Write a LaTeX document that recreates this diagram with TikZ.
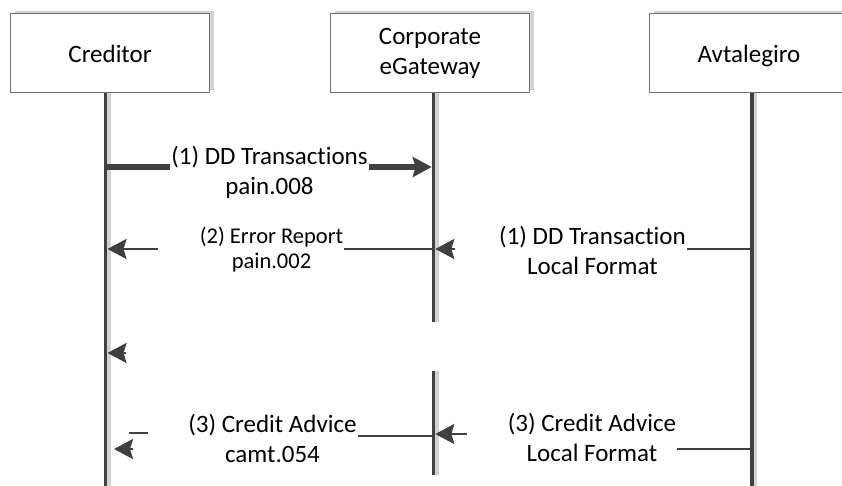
\documentclass[tikz,border=0pt]{standalone}
\usepackage{fontspec}
\setmainfont{Carlito}[Ligatures=NoCommon]
\usetikzlibrary{positioning,arrows.meta,shadows}
\definecolor{linegray}{HTML}{404040}
\definecolor{shadowgray}{HTML}{D2D2D2}
\definecolor{boxgray}{HTML}{707070}

\begin{document}
\begin{tikzpicture}[
        x=1pt, y=-1pt,
        node distance=120pt,
        head/.style={rectangle, draw=boxgray, line width=1pt, fill=white, minimum width=199pt, minimum height=79pt, align=center, font=\fontsize{25}{30}\selectfont, drop shadow={shadow xshift=4pt, shadow yshift=3pt, fill=shadowgray, opacity=1}},
        lifeline/.style={draw=linegray, line width=3.5pt},
        lifeshadow/.style={draw=shadowgray, line width=3.5pt},
        msg/.style={draw=linegray, line width=2.8pt},
        msg-thick/.style={draw=linegray, line width=6.5pt},
        tip/.style={-{Stealth[length=19pt, width=20pt, inset=3pt]}},
        msglabel/.style={align=center, inner sep=1pt, font=\fontsize{25}{30}\selectfont},
        msglabel-small/.style={align=center, inner sep=1pt, font=\fontsize{22.5}{25}\selectfont}
    ]

    \useasboundingbox (0,0) rectangle (842,486);

    % Define nodes - lifeline heads
    \node[head, text depth=0pt] (cred) at (110,53.5) {Creditor};
    \node[head] (corp) [right=of cred] {Corporate\\eGateway};
    \node[head, text depth=0pt] (aval) [right=119pt of corp] {Avtalegiro};

    % Lifeline ends
    \coordinate (crbot) at (105.5,490);
    \coordinate (gwcut) at (433.5,322);
    \coordinate (gwres) at (433.5,371);
    \coordinate (gwbot) at (433.5,475);
    \coordinate (avbot) at (752,490);

    % Lifelines
    \draw[lifeshadow] ([xshift=3.5pt]cred.south -| crbot) -- ([xshift=3.5pt]crbot);
    \draw[lifeshadow] ([xshift=3.5pt]corp.south -| gwcut) -- ([xshift=3.5pt]gwcut);
    \draw[lifeshadow] ([xshift=3.5pt]gwres) -- ([xshift=3.5pt]gwbot);
    \draw[lifeshadow] ([xshift=3.5pt]aval.south -| avbot) -- ([xshift=3.5pt]avbot);
    \draw[lifeline] (cred.south -| crbot) -- (crbot);
    \draw[lifeline] (corp.south -| gwcut) -- (gwcut);
    \draw[lifeline] (gwres) -- (gwbot);
    \draw[lifeline] (aval.south -| avbot) -- (avbot);

    % Message labels
    \node[msglabel] (dd) at (269.5,172) {(1) DD Transactions\\pain.008};
    \node[msglabel-small] (err) at (271.5,250) {(2) Error Report\\pain.002};
    \node[msglabel] (ddloc) at (592.5,250) {(1) DD Transaction\\Local Format};
    \node[msglabel] (adv) at (272.5,438) {(3) Credit Advice\\camt.054};
    \node[msglabel] (advloc) at (592,437) {(3) Credit Advice\\Local Format};

    % Message end points
    \coordinate (dd-a) at (105.5,167);
    \coordinate (dd-b) at (431.7,167);
    \coordinate (err-a) at (107.5,249);
    \coordinate (err-s) at (158,249);
    \coordinate (err-b) at (433.5,249);
    \coordinate (ddloc-a) at (435.3,249);
    \coordinate (ddloc-s) at (455,249);
    \coordinate (ddloc-b) at (752,249);
    \coordinate (lost-a) at (107.5,353);
    \coordinate (lost-s) at (126,353);
    \coordinate (adv-a) at (114,449);
    \coordinate (adv-s) at (133,449);
    \coordinate (stub-a) at (129,433);
    \coordinate (stub-b) at (148,433);
    \coordinate (adv-b) at (433.5,436);
    \coordinate (advloc-a) at (435.3,434);
    \coordinate (advloc-s) at (467,434);
    \coordinate (advloc-b) at (752,449);

    % Define connections
    \draw[msg-thick] (dd-a) -- (dd.west |- dd-a);
    \draw[msg-thick, tip] (dd.east |- dd-b) -- (dd-b);

    \draw[msg, tip] (err-s) -- (err-a);
    \draw[msg] (err.east |- err-b) -- (err-b);

    \draw[msg, tip] (ddloc-s) -- (ddloc-a);
    \draw[msg] (ddloc.east |- ddloc-b) -- (ddloc-b);

    \draw[msg, tip] (lost-s) -- (lost-a);

    \draw[msg] (stub-a) -- (stub-b);
    \draw[msg, tip] (adv-s) -- (adv-a);
    \draw[msg] (adv.east |- adv-b) -- (adv-b);

    \draw[msg, tip] (advloc-s) -- (advloc-a);
    \draw[msg] (advloc.east |- advloc-b) -- (advloc-b);

    \end{tikzpicture}
\end{document}
